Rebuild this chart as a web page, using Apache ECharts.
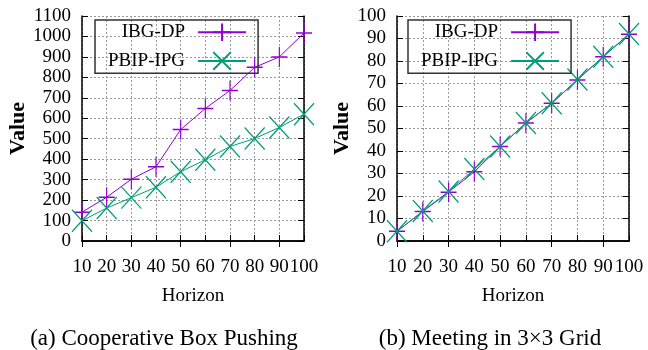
<!DOCTYPE html>
<html><head><meta charset="utf-8">
<script src="https://cdn.jsdelivr.net/npm/echarts@6/dist/echarts.min.js"></script>
<style>html,body{margin:0;padding:0;background:#fff}#c{width:648px;height:350px}</style>
</head><body><div id="c"></div>
<script>
const categories = ['10','20','30','40','50','60','70','80','90','100'];
const boxIBG  = [141,214,302,363,545,648,736,849,900,1017];
const boxPBIP = [99,161,212,263,339,397,462,501,555,620];
const gridIBG  = [4.3,13.1,21.7,30.8,42,52.4,61.2,71.6,81.9,91.9];
const gridPBIP = [4.3,13.3,22,32,42,52.4,61.2,71.8,81.9,92];
const seriesNames = ['IBG-DP','PBIP-IPG'];
const captions = ['(a) Cooperative Box Pushing','(b) Meeting in 3\u00d73 Grid'];

const FONT = 'Liberation Serif';
const PURPLE = '#9400D3', GREEN = '#009E73';
const PLUS = 'path://M0,-1L0,1M-1,0L1,0';
const CROSS = 'path://M-1,-1L1,1M-1,1L1,-1';

function xAxes(gi){
  return [{
    type:'category', data:categories, boundaryGap:false, gridIndex:gi, position:'bottom',
    axisLine:{lineStyle:{color:'#000',width:1.5}},
    axisTick:{inside:true,length:6,lineStyle:{color:'#000'}},
    axisLabel:{color:'#000',fontFamily:FONT,fontSize:19,margin:17,interval:0},
    splitLine:{show:true,lineStyle:{color:'#999',type:[2,2],width:1}},
    name:'Horizon', nameLocation:'middle', nameGap:46,
    nameTextStyle:{color:'#000',fontFamily:FONT,fontSize:19}
  },{
    type:'category', data:categories, boundaryGap:false, gridIndex:gi, position:'top',
    axisLine:{lineStyle:{color:'#000',width:1.5}},
    axisTick:{inside:true,length:6,lineStyle:{color:'#000'}},
    axisLabel:{show:false}, splitLine:{show:false}
  }];
}
function yAxes(gi,max,interval,gap){
  return [{
    type:'value', min:0, max:max, interval:interval, gridIndex:gi, position:'left',
    axisLine:{show:true,lineStyle:{color:'#000',width:1.5}},
    axisTick:{show:true,inside:true,length:6,lineStyle:{color:'#000'}},
    axisLabel:{color:'#000',fontFamily:FONT,fontSize:19,margin:11,formatter:v=>String(v)},
    splitLine:{show:true,lineStyle:{color:'#999',type:[2,2],width:1}},
    name:'Value', nameLocation:'middle', nameRotate:90, nameGap:gap,
    nameTextStyle:{color:'#000',fontFamily:FONT,fontSize:22,fontWeight:'bold'}
  },{
    type:'value', min:0, max:max, interval:interval, gridIndex:gi, position:'right',
    axisLine:{show:true,lineStyle:{color:'#000',width:1.5}},
    axisTick:{show:true,inside:true,length:6,lineStyle:{color:'#000'}},
    axisLabel:{show:false}, splitLine:{show:false}
  }];
}
function mk(name,data,gi,color,sym,size){
  return {
    name:name, type:'line', data:data, xAxisIndex:gi*2, yAxisIndex:gi*2,
    symbol:sym, symbolSize:size, showSymbol:true,
    lineStyle:{color:color,width:1},
    itemStyle:{color:'none',borderColor:color,borderWidth:1.3},
    animation:false
  };
}
function legend(gi,left){
  return {
    data:seriesNames.map(n=>({name:n})),
    left:left, top:20, orient:'vertical', align:'right',
    itemWidth:48, itemHeight:22, itemGap:6,
    padding:[1,11,1,13], borderColor:'#333', borderWidth:1.5,
    textStyle:{color:'#000',fontFamily:FONT,fontSize:19,width:84,align:'right',padding:[0,8,0,0]},
    seriesIndex: gi
  };
}

const chart = echarts.init(document.getElementById('c'),null,{renderer:'canvas'});
chart.setOption({
  animation:false,
  backgroundColor:'#fff',
  title:[
    {text:captions[0],left:159,top:322,textAlign:'center',textStyle:{color:'#000',fontFamily:FONT,fontSize:23,fontWeight:'normal'}},
    {text:captions[1],left:485,top:322,textAlign:'center',textStyle:{color:'#000',fontFamily:FONT,fontSize:23,fontWeight:'normal'}}
  ],
  grid:[
    {left:82,right:344,top:16,bottom:109},
    {left:397,right:19,top:16,bottom:109}
  ],
  xAxis:[...xAxes(0),...xAxes(1)],
  yAxis:[...yAxes(0,1100,100,48),...yAxes(1,100,10,43)],
  legend:[legend(0,95),legend(1,408)],
  series:[
    mk(seriesNames[0],boxIBG,0,PURPLE,PLUS,[16,20]),
    mk(seriesNames[1],boxPBIP,0,GREEN,CROSS,[20,22]),
    mk(seriesNames[0],gridIBG,1,PURPLE,PLUS,[16,20]),
    mk(seriesNames[1],gridPBIP,1,GREEN,CROSS,[20,22])
  ]
});
</script></body></html>
